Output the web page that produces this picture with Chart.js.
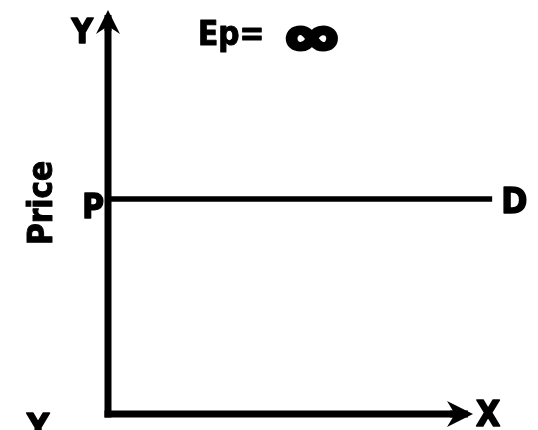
<!DOCTYPE html>
<html><head><meta charset="utf-8">
<script src="https://cdn.jsdelivr.net/npm/chart.js@4"></script>
<style>html,body{margin:0;padding:0;background:#fff;overflow:hidden}canvas{display:block}</style>
</head><body>
<canvas id="c" width="538" height="430"></canvas>
<script>
// Quantity (X) axis, price (Y) axis and the perfectly elastic demand line
const quantityAxisQ = [0, 10];
const quantityAxisP = [0, 0];
const priceAxisQ = [0, 0];
const priceAxisP = [0, 10];
const demandQ = [0, 11.2];
const demandP = [5.6, 5.6];
// Text
const axisNames = ['X', 'Y'];
const priceTitle = 'Price';
const priceMark = 'P';
const curveName = 'D';
const elasticityText = 'Ep=';
const elasticitySymbol = '\u221E';
const originMark = 'Y';

const pts = (qs, ps) => qs.map((q, i) => ({x: q, y: ps[i]}));
const FONT = '"DejaVu Sans Condensed", "DejaVu Sans", Verdana, sans-serif';

const arrowPlugin = {
  id: 'arrows',
  afterDatasetsDraw(chart) {
    const ctx = chart.ctx;
    chart.data.datasets.forEach((ds, i) => {
      if (!ds.arrow) return;
      const meta = chart.getDatasetMeta(i);
      const a = meta.data[meta.data.length - 2], b = meta.data[meta.data.length - 1];
      const ang = Math.atan2(b.y - a.y, b.x - a.x);
      const L = ds.arrow.length, W = ds.arrow.width, hw = ds.borderWidth / 2;
      ctx.save();
      ctx.translate(b.x, b.y);
      ctx.rotate(ang);
      ctx.fillStyle = ds.borderColor;
      ctx.fillRect(-1, -hw, L - 4, hw * 2);
      ctx.beginPath();
      ctx.moveTo(L, 0);
      ctx.lineTo(-4, -W);
      ctx.quadraticCurveTo(2, -3, 4, 0);
      ctx.quadraticCurveTo(2, 3, -4, W);
      ctx.closePath();
      ctx.fill();
      ctx.restore();
    });
  }
};

function heavyText(ctx, txt, x, y, w) {
  ctx.lineWidth = w;
  ctx.lineJoin = 'round';
  ctx.strokeText(txt, x, y);
  ctx.fillText(txt, x, y);
}

const textPlugin = {
  id: 'texts',
  afterDraw(chart) {
    const ctx = chart.ctx;
    const xs = chart.scales.x, ys = chart.scales.y;
    const ox = xs.getPixelForValue(0), oy = ys.getPixelForValue(0);
    const yEnd = ys.getPixelForValue(priceAxisP[1]);
    const xEnd = xs.getPixelForValue(quantityAxisQ[1]);
    const dy = ys.getPixelForValue(demandP[0]);
    const dEnd = xs.getPixelForValue(demandQ[demandQ.length - 1]);
    ctx.save();
    ctx.fillStyle = '#000';
    ctx.strokeStyle = '#000';
    ctx.textBaseline = 'alphabetic';
    // Y at top of price axis
    ctx.font = 'bold 33px ' + FONT;
    ctx.textAlign = 'right';
    heavyText(ctx, axisNames[1], ox - 15, yEnd + 13, 1.5);
    // P
    heavyText(ctx, priceMark, ox - 4, dy + 19, 1.5);
    // D
    ctx.textAlign = 'left';
    ctx.font = 'bold 35px ' + FONT;
    heavyText(ctx, curveName, dEnd + 9, dy + 14, 1.5);
    // X
    heavyText(ctx, axisNames[0], xEnd + 25, oy + 12, 1.5);
    // clipped Y at bottom left
    ctx.font = 'bold 34px ' + FONT;
    ctx.textAlign = 'center';
    heavyText(ctx, originMark, ox - 70, oy + 24, 1.5);
    // Ep= infinity
    ctx.textAlign = 'left';
    ctx.font = 'bold 33px ' + FONT;
    heavyText(ctx, elasticityText, ox + 90, yEnd + 15, 1);
    ctx.save();
    ctx.translate(ox + 204, yEnd + 10);
    ctx.scale(1.5, 1);
    ctx.font = 'bold 52px ' + FONT;
    ctx.textAlign = 'center';
    ctx.textBaseline = 'middle';
    heavyText(ctx, elasticitySymbol, 0, 0, 4.5);
    ctx.restore();
    // Price title
    ctx.translate(ox - 56, dy + 4);
    ctx.rotate(-Math.PI / 2);
    ctx.textAlign = 'center';
    ctx.font = 'bold 33px ' + FONT;
    heavyText(ctx, priceTitle, 0, 0, 1);
    ctx.restore();
  }
};

new Chart(document.getElementById('c'), {
  type: 'scatter',
  data: {
    datasets: [
      {data: pts(demandQ, demandP), showLine: true, borderColor: '#000', borderWidth: 5.5, pointRadius: 0, borderCapStyle: 'butt', clip: false},
      {data: pts(quantityAxisQ, quantityAxisP), showLine: true, borderColor: '#000', borderWidth: 7, pointRadius: 0, borderCapStyle: 'square', clip: false, arrow: {length: 22, width: 13}},
      {data: pts(priceAxisQ, priceAxisP), showLine: true, borderColor: '#000', borderWidth: 7, pointRadius: 0, borderCapStyle: 'square', clip: false, arrow: {length: 20, width: 12}}
    ]
  },
  options: {
    responsive: false,
    animation: false,
    events: [],
    layout: {padding: {left: 108, right: 18.4, top: 10.8, bottom: 16}},
    scales: {
      x: {type: 'linear', display: false, min: 0, max: 12},
      y: {type: 'linear', display: false, min: 0, max: 10.5}
    },
    plugins: {legend: {display: false}, tooltip: {enabled: false}}
  },
  plugins: [arrowPlugin, textPlugin]
});
</script>
</body></html>
